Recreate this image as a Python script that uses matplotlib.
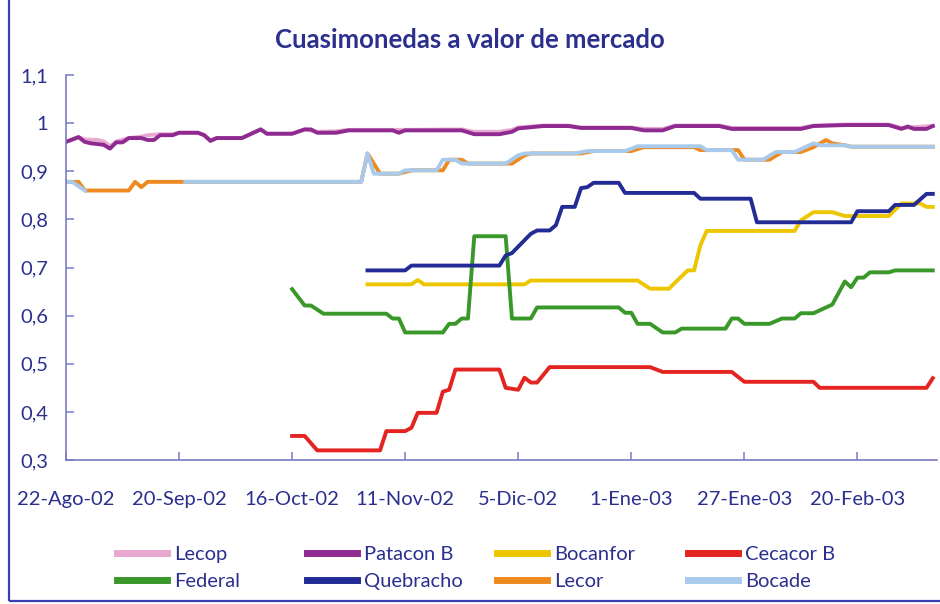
import numpy as np
import matplotlib
matplotlib.use("Agg")
import matplotlib.pyplot as plt
from matplotlib.patches import Rectangle

plt.rcParams['font.family'] = ['Lato', 'DejaVu Sans']

# x = trading-day index (category axis), y = market value
lecop_x = [0, 2, 3, 5, 6, 7, 8, 10, 12, 13, 15, 17, 18, 21, 22, 23, 24, 28, 31, 32, 36, 38, 40, 43, 45,
           52, 54, 63, 65, 69, 71, 72, 76, 80, 82, 90, 92, 95, 97, 104, 106, 117, 119, 124, 131, 133, 138]
lecop_y = [0.961, 0.971, 0.966, 0.965, 0.962, 0.952, 0.962, 0.969, 0.972, 0.975, 0.977, 0.977, 0.98, 0.98,
           0.975, 0.965, 0.969, 0.969, 0.987, 0.978, 0.978, 0.987, 0.982, 0.983, 0.986, 0.986, 0.986, 0.987,
           0.982, 0.982, 0.986, 0.991, 0.995, 0.995, 0.991, 0.991, 0.988, 0.988, 0.995, 0.995, 0.99, 0.99,
           0.995, 0.997, 0.997, 0.99, 0.994]

patacon_x = [0, 2, 3, 4, 6, 7, 8, 9, 10, 12, 13, 14, 15, 17, 18, 21, 22, 23, 24, 28, 31, 32, 36, 38, 39, 40,
             43, 45, 52, 53, 54, 63, 65, 69, 71, 72, 76, 80, 82, 90, 92, 95, 97, 104, 106, 117, 119, 124, 131,
             133, 134, 135, 137, 138]
patacon_y = [0.961, 0.971, 0.961, 0.958, 0.955, 0.947, 0.96, 0.96, 0.969, 0.969, 0.965, 0.965, 0.975, 0.975,
             0.98, 0.98, 0.975, 0.963, 0.969, 0.969, 0.987, 0.978, 0.978, 0.987, 0.987, 0.98, 0.98, 0.985,
             0.985, 0.98, 0.985, 0.985, 0.977, 0.977, 0.982, 0.989, 0.994, 0.994, 0.99, 0.99, 0.985, 0.985,
             0.994, 0.994, 0.988, 0.988, 0.994, 0.996, 0.996, 0.988, 0.993, 0.988, 0.988, 0.994]

bocanfor_x = [48, 55, 56, 57, 73, 74, 91, 93, 96, 97, 99, 100, 101, 102, 116, 117, 119, 122, 124, 131, 133,
              136, 137, 138]
bocanfor_y = [0.665, 0.665, 0.674, 0.665, 0.665, 0.673, 0.673, 0.656, 0.656, 0.669, 0.694, 0.694, 0.746,
              0.776, 0.776, 0.798, 0.815, 0.815, 0.807, 0.807, 0.833, 0.833, 0.826, 0.826]

cecacor_x = [36, 38, 40, 50, 51, 54, 55, 56, 59, 60, 61, 62, 69, 70, 72, 73, 74, 75, 77, 93, 95, 106, 108,
             119, 120, 137, 138]
cecacor_y = [0.35, 0.35, 0.32, 0.32, 0.36, 0.36, 0.367, 0.398, 0.398, 0.442, 0.446, 0.488, 0.488, 0.45,
             0.446, 0.471, 0.461, 0.461, 0.493, 0.493, 0.483, 0.483, 0.4625, 0.4625, 0.45, 0.45, 0.47]

federal_x = [36, 38, 39, 41, 51, 52, 53, 54, 60, 61, 62, 63, 64, 65, 70, 71, 74, 75, 88, 89, 90, 91, 93, 95,
             97, 98, 105, 106, 107, 108, 112, 114, 116, 117, 119, 121, 122, 124, 125, 126, 127, 128, 131, 132, 138]
federal_y = [0.655, 0.621, 0.621, 0.604, 0.604, 0.594, 0.594, 0.565, 0.565, 0.583, 0.583, 0.594, 0.594, 0.765,
             0.765, 0.594, 0.594, 0.617, 0.617, 0.606, 0.606, 0.583, 0.583, 0.565, 0.565, 0.573, 0.573, 0.594,
             0.594, 0.583, 0.583, 0.594, 0.594, 0.605, 0.605, 0.617, 0.623, 0.671, 0.659, 0.679, 0.679, 0.69,
             0.69, 0.694, 0.694]

quebracho_x = [48, 54, 55, 69, 70, 71, 74, 75, 77, 78, 79, 81, 82, 83, 84, 88, 89, 100, 101, 109, 110, 125,
               126, 131, 132, 135, 137, 138]
quebracho_y = [0.694, 0.694, 0.704, 0.704, 0.725, 0.73, 0.77, 0.777, 0.777, 0.788, 0.826, 0.826, 0.865, 0.867,
               0.876, 0.876, 0.855, 0.855, 0.843, 0.843, 0.794, 0.794, 0.817, 0.817, 0.83, 0.83, 0.853, 0.853]

lecor_x = [0, 2, 3, 10, 11, 12, 13, 47, 48, 50, 53, 55, 60, 61, 63, 64, 71, 73, 74, 82, 84, 90, 92, 100, 101,
           107, 108, 112, 114, 117, 119, 121, 122, 124, 125, 138]
lecor_y = [0.878, 0.878, 0.86, 0.86, 0.878, 0.867, 0.878, 0.878, 0.937, 0.895, 0.895, 0.902, 0.902, 0.924,
           0.924, 0.916, 0.916, 0.933, 0.937, 0.937, 0.942, 0.942, 0.95, 0.95, 0.944, 0.944, 0.924, 0.924,
           0.94, 0.94, 0.95, 0.965, 0.958, 0.954, 0.951, 0.951]

# gap (nan) between day 4 and day 18 where only Lecor shows
bocade_x = [0, 1, 3, 4, 19, 47, 48, 49, 53, 54, 59, 60, 62, 63, 70, 72, 73, 81, 83, 89, 91, 101, 102, 106, 107,
            111, 113, 116, 119, 120, 124, 125, 138]
bocade_y = [0.878, 0.878, 0.86, np.nan, 0.878, 0.878, 0.937, 0.895, 0.895, 0.902, 0.902, 0.924, 0.924, 0.916,
            0.916, 0.933, 0.937, 0.937, 0.942, 0.942, 0.952, 0.952, 0.944, 0.944, 0.924, 0.924, 0.94, 0.94,
            0.958, 0.954, 0.954, 0.951, 0.951]

tick_pos = [0, 18, 36, 54, 72, 90, 108, 126]
tick_labels = ["22-Ago-02", "20-Sep-02", "16-Oct-02", "11-Nov-02", "5-Dic-02", "1-Ene-03", "27-Ene-03", "20-Feb-03"]
y_ticks = [0.3, 0.4, 0.5, 0.6, 0.7, 0.8, 0.9, 1.0, 1.1]
y_labels = ["0,3", "0,4", "0,5", "0,6", "0,7", "0,8", "0,9", "1", "1,1"]

txt_color = "#2b2f8e"
axis_color = "#7a7ac4"

fig = plt.figure(figsize=(9.4, 6.04), dpi=100)
ax = fig.add_axes([0.0702, 0.2384, 0.9268, 0.6374])

lw = 2.8
l1, = ax.plot(lecop_x, lecop_y, c="#e8a8cf", lw=lw, label="Lecop")
l2, = ax.plot(patacon_x, patacon_y, c="#8e2a90", lw=lw, label="Patacon B")
l3, = ax.plot(bocanfor_x, bocanfor_y, c="#eec600", lw=lw, label="Bocanfor")
l4, = ax.plot(cecacor_x, cecacor_y, c="#e32420", lw=lw, label="Cecacor B")
l5, = ax.plot(federal_x, federal_y, c="#3a982a", lw=lw, label="Federal")
l6, = ax.plot(quebracho_x, quebracho_y, c="#232c94", lw=lw, label="Quebracho")
l7, = ax.plot(lecor_x, lecor_y, c="#ee8a20", lw=lw, label="Lecor")
l8, = ax.plot(bocade_x, bocade_y, c="#a8caec", lw=lw, label="Bocade")

ax.set_xlim(0, 138.7)
ax.set_ylim(0.3, 1.1)
ax.set_xticks(tick_pos)
ax.set_xticklabels(tick_labels)
ax.set_yticks(y_ticks)
ax.set_yticklabels(y_labels)

for s in ["top", "right"]:
    ax.spines[s].set_visible(False)
for s in ["left", "bottom"]:
    ax.spines[s].set_color(axis_color)
    ax.spines[s].set_linewidth(1.2)

ax.tick_params(axis="both", direction="in", length=6, width=1.1, color=axis_color,
               labelcolor=txt_color, labelsize=14.5)
ax.tick_params(axis="y", pad=13)
ax.tick_params(axis="x", pad=22)

fig.text(0.5, 0.934, "Cuasimonedas a valor de mercado", ha="center", va="center",
         fontsize=18.5, fontweight="bold", color=txt_color)

# legend: one small legend per column so the columns sit at fixed places
cols = [(l1, l5), (l2, l6), (l3, l7), (l4, l8)]
col_x = [117, 307, 497, 688]
for (h1, h2), cx in zip(cols, col_x):
    fig.legend([h1, h2], [h1.get_label(), h2.get_label()], loc="upper left",
               bbox_to_anchor=(cx / 940, 1 - 546 / 604), frameon=False, fontsize=14.5,
               handlelength=2.5, handletextpad=0.35, labelspacing=0.5, borderpad=0,
               borderaxespad=0, labelcolor=txt_color)
for leg in fig.legends:
    for ln in leg.get_lines():
        ln.set_linewidth(5)

# frame around the whole chart (left and bottom edges show)
fig.patches.append(Rectangle((9 / 940, 3 / 604), 1.2, 1.2, fill=False, edgecolor="#3c3cb4",
                             lw=1.6, transform=fig.transFigure, figure=fig))

fig.savefig("out.png", dpi=100)
